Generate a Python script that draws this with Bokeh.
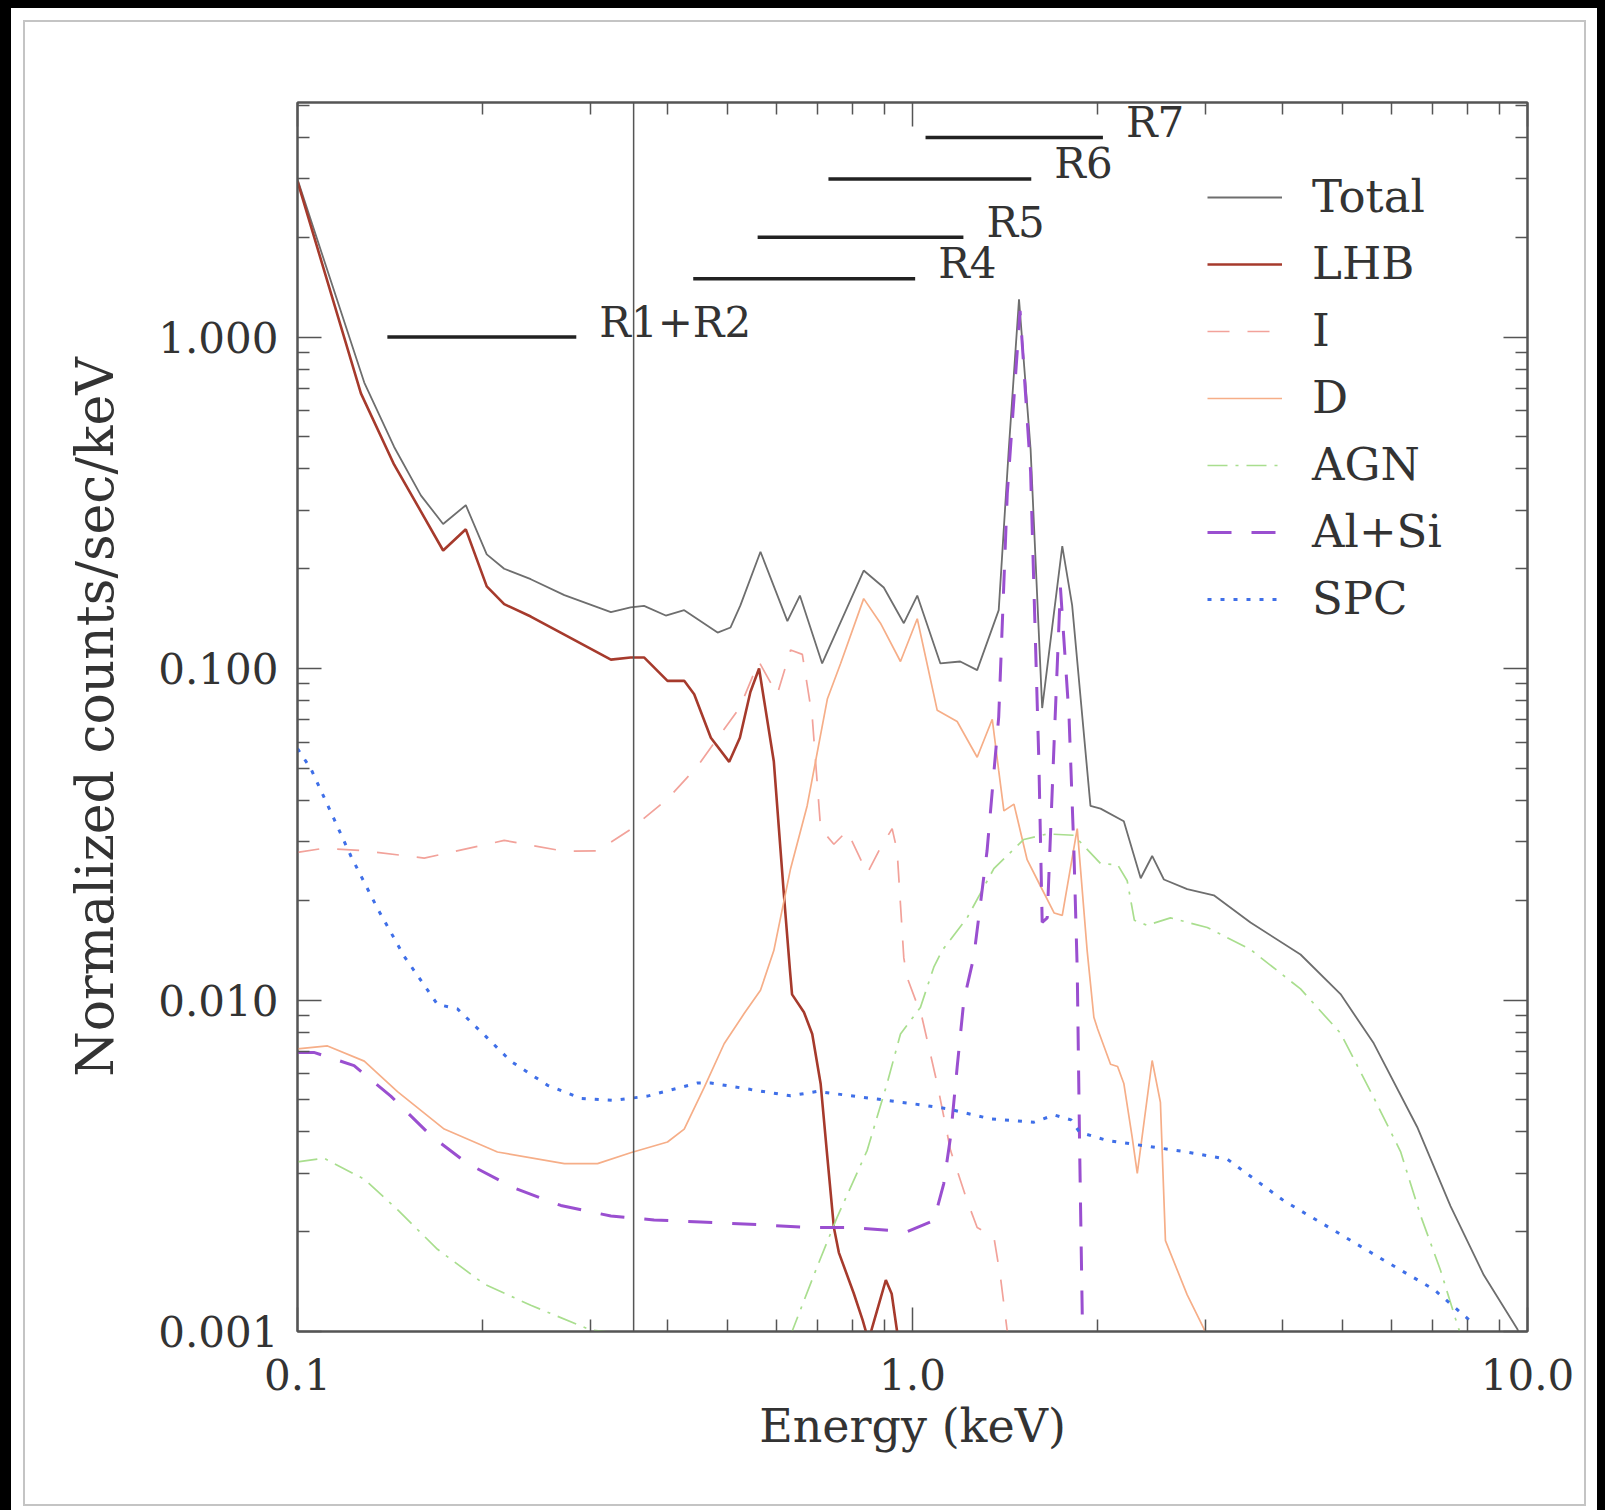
from bokeh.plotting import figure
from bokeh.models import (LogAxis, FixedTicker, PrintfTickFormatter, Span, Legend,
                          LegendItem, Range1d, GlobalInlineStyleSheet, CustomJSTickFormatter)
from bokeh.core.properties import value
from bokeh.embed import file_html
from bokeh.resources import INLINE

# ---------------- data ----------------
total_e = [0.1, 0.1284, 0.1436, 0.1587, 0.1725, 0.1878, 0.2031, 0.2168, 0.2395, 0.2716,
           0.3233, 0.348, 0.366, 0.397, 0.4254, 0.482, 0.506, 0.525, 0.566, 0.626, 0.656,
           0.713, 0.833, 0.898, 0.968, 1.018, 1.11, 1.1955, 1.274, 1.381, 1.434, 1.49,
           1.556, 1.625, 1.687, 1.752, 1.818, 1.947, 2.022, 2.206, 2.35, 2.453, 2.563,
           2.797, 3.09, 3.545, 4.275, 4.966, 5.623, 6.616, 7.496, 8.49, 9.62, 9.9]
total_v = [2.99, 0.729, 0.466, 0.333, 0.273, 0.311, 0.221, 0.200, 0.186, 0.1665,
           0.148, 0.153, 0.1545, 0.1445, 0.150, 0.1284, 0.133, 0.155, 0.225, 0.139, 0.166,
           0.1036, 0.1975, 0.1755, 0.137, 0.166, 0.1036, 0.105, 0.0989, 0.150, 0.459, 1.30,
           0.459, 0.076, 0.133, 0.234, 0.155, 0.0385, 0.0378, 0.0346, 0.0233, 0.0272, 0.0231,
           0.0216, 0.0207, 0.01713, 0.01372, 0.01042, 0.0074, 0.00414, 0.00239, 0.00148, 0.00102, 0.0009]

lhb_e = [0.1, 0.1268, 0.1436, 0.1587, 0.1725, 0.1878, 0.2031, 0.2168, 0.2395, 0.2716,
         0.3233, 0.348, 0.366, 0.3996, 0.4254, 0.4416, 0.470, 0.5035, 0.524, 0.545, 0.563,
         0.595, 0.618, 0.632, 0.637, 0.666, 0.687, 0.709, 0.727, 0.745, 0.759, 0.803, 0.83,
         0.848, 0.875, 0.905, 0.925, 0.944, 0.955]
lhb_v = [2.95, 0.676, 0.412, 0.298, 0.227, 0.263, 0.177, 0.1564, 0.1435, 0.1266,
         0.1064, 0.108, 0.108, 0.0918, 0.0918, 0.0836, 0.0618, 0.0523, 0.0618, 0.085, 0.100,
         0.0524, 0.0207, 0.0123, 0.0104, 0.00919, 0.0079, 0.00559, 0.00336, 0.00206, 0.00173, 0.0013, 0.00108,
         0.00094, 0.00115, 0.00143, 0.0013, 0.001, 0.0008]

i_e = [0.1, 0.1105, 0.1284, 0.1607, 0.2168, 0.2716, 0.3075, 0.348, 0.3996, 0.447, 0.524,
       0.5625, 0.6025, 0.6335, 0.662, 0.687, 0.709, 0.745, 0.783, 0.844, 0.8816, 0.9266,
       0.944, 0.968, 0.98, 1.036, 1.097, 1.153, 1.227, 1.274, 1.356, 1.39, 1.426, 1.45]
i_v = [0.0279, 0.0287, 0.0282, 0.0268, 0.0303, 0.0281, 0.0282, 0.0327, 0.0404, 0.0507, 0.0764,
       0.105, 0.0835, 0.1137, 0.1103, 0.0715, 0.0329, 0.0295, 0.0324, 0.0241, 0.0282, 0.0329,
       0.0282, 0.0134, 0.0117, 0.00887, 0.00559, 0.00352, 0.00248, 0.00206, 0.00193, 0.00146, 0.001, 0.0008]

d_e = [0.1, 0.1119, 0.1284, 0.1454, 0.1732, 0.2114, 0.2716, 0.3075, 0.348, 0.3996, 0.4254,
       0.4585, 0.494, 0.5324, 0.566, 0.595, 0.6335, 0.674, 0.727, 0.764, 0.833, 0.887, 0.956,
       1.018, 1.097, 1.182, 1.274, 1.348, 1.381, 1.408, 1.462, 1.536, 1.616, 1.70, 1.752, 1.853,
       1.923, 1.972, 2.0, 2.099, 2.155, 2.206, 2.276, 2.32, 2.453, 2.53, 2.578, 2.797, 2.977, 3.05]
d_v = [0.00712, 0.00727, 0.00654, 0.00529, 0.00408, 0.00348, 0.00321, 0.00321, 0.00346, 0.00373, 0.00408,
       0.00545, 0.00738, 0.0091, 0.0107, 0.0141, 0.0249, 0.0385, 0.0809, 0.1036, 0.1625, 0.137, 0.105,
       0.1413, 0.0748, 0.0692, 0.054, 0.0703, 0.0492, 0.0372, 0.039, 0.0265, 0.022, 0.0183, 0.018, 0.0329,
       0.0141, 0.00887, 0.00818, 0.0064, 0.0063, 0.0056, 0.00386, 0.0030, 0.00657, 0.00491, 0.00188, 0.00129, 0.00102, 0.0008]

agn_e = [0.1, 0.1105, 0.1284, 0.1454, 0.1689, 0.2012, 0.2395, 0.2999, 0.35, 0.45, 0.55, 0.61,
         0.637, 0.699, 0.754, 0.844, 0.909, 0.956, 1.03, 1.083, 1.117, 1.227, 1.356, 1.517,
         1.656, 1.83, 2.022, 2.155, 2.234, 2.295, 2.407, 2.627, 3.015, 3.545, 4.275, 4.966,
         5.623, 6.217, 6.70, 7.22, 7.64, 7.9]
agn_v = [0.00325, 0.00333, 0.00288, 0.00233, 0.00177, 0.00139, 0.0012, 0.00101, 0.00098, 0.00097, 0.00096, 0.00097,
         0.001, 0.00156, 0.00221, 0.00352, 0.00559, 0.0079, 0.0095, 0.01256, 0.0141, 0.0177, 0.0249, 0.0305,
         0.0317, 0.0314, 0.0258, 0.0256, 0.0229, 0.0174, 0.0168, 0.0177, 0.01655, 0.0142, 0.0108, 0.00794,
         0.00508, 0.00349, 0.00224, 0.00153, 0.00109, 0.0009]

alsi_e = [0.1, 0.1063, 0.1236, 0.1418, 0.1647, 0.189, 0.225, 0.268, 0.3233, 0.380, 0.4527, 0.56,
          0.674, 0.795, 0.98, 1.083, 1.124, 1.153, 1.182, 1.212, 1.258, 1.322, 1.381, 1.426, 1.496,
          1.556, 1.605, 1.625, 1.656, 1.70, 1.74, 1.797, 1.83, 1.853, 1.87, 1.89, 1.9]
alsi_v = [0.00695, 0.00695, 0.00634, 0.00513, 0.0039, 0.00321, 0.00271, 0.0024, 0.00223, 0.00217, 0.00214, 0.0021,
          0.00206, 0.00206, 0.0020, 0.00216, 0.00279, 0.00386, 0.00627, 0.00997, 0.0135, 0.0282, 0.0715, 0.3367, 1.2,
          0.393, 0.0524, 0.01716, 0.0177, 0.061, 0.1755, 0.0715, 0.0282, 0.0123, 0.0035, 0.001, 0.0008]

spc_e = [0.1, 0.1051, 0.1133, 0.1221, 0.1349, 0.1491, 0.1689, 0.182, 0.2012, 0.2222, 0.255, 0.2889,
         0.327, 0.3707, 0.447, 0.470, 0.546, 0.6335, 0.699, 0.865, 1.005, 1.139, 1.339, 1.575, 1.70,
         1.81, 1.87, 2.073, 2.438, 2.762, 3.249, 3.545, 4.015, 4.842, 5.84, 7.04, 8.2]
spc_v = [0.0573, 0.0499, 0.0369, 0.0272, 0.0189, 0.01355, 0.0097, 0.0094, 0.00785, 0.00654, 0.00553, 0.00505,
         0.00498, 0.00513, 0.00562, 0.00562, 0.00537, 0.00514, 0.0053, 0.00504, 0.00486, 0.0047, 0.00438, 0.00428, 0.0045,
         0.00435, 0.00399, 0.00377, 0.00361, 0.00349, 0.00331, 0.00294, 0.00248, 0.00202, 0.00164, 0.00134, 0.00105]

band_names = ["R1+R2", "R4", "R5", "R6", "R7"]
band_lo = [0.14, 0.44, 0.56, 0.73, 1.05]
band_hi = [0.284, 1.01, 1.21, 1.56, 2.04]
band_level = [1.0, 1.5, 2.0, 3.0, 4.0]

vline_energy = 0.352

x_major = [0.1, 1.0, 10.0]
y_major = [0.001, 0.01, 0.1, 1.0]
x_minor = [m * 10.0 ** d for d in (-1, 0) for m in range(2, 10)]
y_minor = [m * 10.0 ** d for d in (-3, -2, -1) for m in range(2, 10)] + [2.0, 3.0, 4.0, 5.0]

# ---------------- figure ----------------
FONT = "DejaVu Serif"
TXT = "#333333"
AX = "#555555"

p = figure(width=1605, height=1510, x_axis_type="log", y_axis_type="log",
           x_range=Range1d(0.1, 10.0), y_range=Range1d(0.001, 5.1),
           output_backend="svg", toolbar_location=None,
           min_border_left=297, min_border_right=78, min_border_top=102, min_border_bottom=179)
p.border_fill_color = None
p.background_fill_color = "white"
p.outline_line_color = AX
p.outline_line_width = 2
p.grid.visible = False

p.stylesheets = [GlobalInlineStyleSheet(css="html, body { background-color: #000000; }")]
p.styles = {
    "background-color": "#ffffff",
    "box-shadow": ("inset 11px 8px 0px 0px #000000, inset -8px 0px 0px 0px #000000, "
                   "inset 11px 8px 0px 12px #ffffff, inset -7px 8px 0px 12px #ffffff, "
                   "inset 11px 8px 0px 14px #c4c4c4, inset -7px 8px 0px 14px #c4c4c4"),
}


def style_axis(ax, ticks, minor):
    ax.ticker = FixedTicker(ticks=ticks, minor_ticks=minor)
    ax.major_tick_in = 24
    ax.major_tick_out = 0
    ax.minor_tick_in = 12
    ax.minor_tick_out = 0
    ax.major_tick_line_color = AX
    ax.minor_tick_line_color = AX
    ax.major_tick_line_width = 1.5
    ax.minor_tick_line_width = 1.5
    ax.axis_line_color = AX
    ax.axis_line_width = 2
    ax.major_label_text_font = FONT
    ax.major_label_text_color = TXT
    ax.major_label_text_font_size = "42px"


xa = p.xaxis[0]
ya = p.yaxis[0]
style_axis(xa, x_major, x_minor)
style_axis(ya, y_major, y_minor)
xa.formatter = PrintfTickFormatter(format="%.1f")
ya.formatter = PrintfTickFormatter(format="%.3f")
xa.major_label_standoff = 27
ya.major_label_standoff = 19
xa.axis_label = "Energy (keV)"
ya.axis_label = "Normalized counts/sec/keV"
for ax, size, so in ((xa, "46px", 6), (ya, "52px", 30)):
    ax.axis_label_text_font = FONT
    ax.axis_label_text_font_style = "normal"
    ax.axis_label_text_font_size = size
    ax.axis_label_text_color = TXT
    ax.axis_label_standoff = so

blank = CustomJSTickFormatter(code="return '';")
top_ax = LogAxis()
style_axis(top_ax, x_major, x_minor)
top_ax.formatter = blank
top_ax.major_label_text_font_size = "8px"
top_ax.major_label_standoff = 0
p.add_layout(top_ax, "above")
right_ax = LogAxis()
style_axis(right_ax, y_major, y_minor)
right_ax.formatter = blank
right_ax.major_label_text_font_size = "8px"
right_ax.major_label_standoff = 0
p.add_layout(right_ax, "right")

# vertical reference line
p.add_layout(Span(location=vline_energy, dimension="height", line_color="#555555", line_width=1.5))

# ROSAT band bars
p.segment(x0=band_lo, y0=band_level, x1=band_hi, y1=band_level, line_color="#222222", line_width=3.5)
p.text(x=band_hi, y=band_level, text=band_names, x_offset=23, y_offset=-15, text_baseline="middle",
       text_align="left", text_font=value(FONT), text_font_size="42px", text_color=TXT)

# curves
r_total = p.line(total_e, total_v, line_color="#6e6e6e", line_width=1.8)
r_lhb = p.line(lhb_e, lhb_v, line_color="#a63a2c", line_width=2.6)
r_i = p.line(i_e, i_v, line_color="#f2a29a", line_width=1.7, line_dash="22 18")
r_d = p.line(d_e, d_v, line_color="#f6ae88", line_width=1.7)
r_agn = p.line(agn_e, agn_v, line_color="#a9de8e", line_width=1.7, line_dash="20 8 3 8")
r_alsi = p.line(alsi_e, alsi_v, line_color="#9a4fd0", line_width=3.0, line_dash="24 20")
r_spc = p.line(spc_e, spc_v, line_color="#3f6fe8", line_width=3.0, line_dash="4 9")

items = [LegendItem(label=n, renderers=[r]) for n, r in
         (("Total", r_total), ("LHB", r_lhb), ("I", r_i), ("D", r_d),
          ("AGN", r_agn), ("Al+Si", r_alsi), ("SPC", r_spc))]
legend = Legend(items=items, location=(910, 706), padding=0, margin=0,
                background_fill_alpha=0, border_line_alpha=0,
                glyph_width=75, glyph_height=52, label_height=52, spacing=14, label_standoff=30,
                label_text_font=FONT, label_text_font_size="45px", label_text_color=TXT)
p.add_layout(legend)

open("out.html", "w").write(file_html(p, INLINE))
